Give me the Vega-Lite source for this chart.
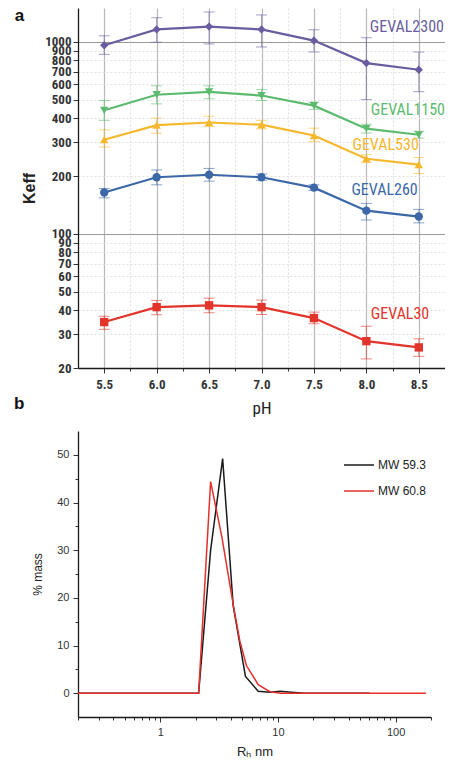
{
  "$schema": "https://vega.github.io/schema/vega-lite/v6.json",
  "padding": {"top": 7, "left": 13, "right": 0, "bottom": 0},
  "autosize": {"type": "pad"},
  "background": "white",
  "bounds": "flush",
  "spacing": 63,
  "resolve": {"scale": {"color": "independent", "shape": "independent"}, "legend": {"color": "independent", "shape": "independent"}},
  "config": {
    "font": "Liberation Sans",
    "view": {"stroke": null},
    "axis": {"domainColor": "#1a1a1a", "domainWidth": 1.3, "tickColor": "#333", "labelColor": "#333", "titleColor": "#222", "labelOverlap": false, "labelBound": false}
  },
  "datasets": {
    "keff": [
      {"series": "GEVAL2300", "pH": 5.5, "keff": 960, "lo": 860, "hi": 1075},
      {"series": "GEVAL2300", "pH": 6.0, "keff": 1160, "lo": 995, "hi": 1335},
      {"series": "GEVAL2300", "pH": 6.5, "keff": 1200, "lo": 975, "hi": 1430},
      {"series": "GEVAL2300", "pH": 7.0, "keff": 1160, "lo": 940, "hi": 1380},
      {"series": "GEVAL2300", "pH": 7.5, "keff": 1015, "lo": 885, "hi": 1155},
      {"series": "GEVAL2300", "pH": 8.0, "keff": 775, "lo": 500, "hi": 1050},
      {"series": "GEVAL2300", "pH": 8.5, "keff": 715, "lo": 550, "hi": 885},
      {"series": "GEVAL1150", "pH": 5.5, "keff": 440, "lo": 390, "hi": 495},
      {"series": "GEVAL1150", "pH": 6.0, "keff": 530, "lo": 475, "hi": 590},
      {"series": "GEVAL1150", "pH": 6.5, "keff": 548, "lo": 505, "hi": 590},
      {"series": "GEVAL1150", "pH": 7.0, "keff": 525, "lo": 495, "hi": 565},
      {"series": "GEVAL1150", "pH": 7.5, "keff": 465, "lo": 445, "hi": 485},
      {"series": "GEVAL1150", "pH": 8.0, "keff": 353, "lo": 335, "hi": 372},
      {"series": "GEVAL1150", "pH": 8.5, "keff": 328, "lo": 315, "hi": 342},
      {"series": "GEVAL530", "pH": 5.5, "keff": 309, "lo": 283, "hi": 348},
      {"series": "GEVAL530", "pH": 6.0, "keff": 368, "lo": 334, "hi": 401},
      {"series": "GEVAL530", "pH": 6.5, "keff": 380, "lo": 362, "hi": 410},
      {"series": "GEVAL530", "pH": 7.0, "keff": 370, "lo": 352, "hi": 390},
      {"series": "GEVAL530", "pH": 7.5, "keff": 325, "lo": 302, "hi": 355},
      {"series": "GEVAL530", "pH": 8.0, "keff": 246, "lo": 235, "hi": 258},
      {"series": "GEVAL530", "pH": 8.5, "keff": 229, "lo": 206, "hi": 250},
      {"series": "GEVAL260", "pH": 5.5, "keff": 164, "lo": 154, "hi": 172},
      {"series": "GEVAL260", "pH": 6.0, "keff": 197, "lo": 180, "hi": 215},
      {"series": "GEVAL260", "pH": 6.5, "keff": 203, "lo": 188, "hi": 219},
      {"series": "GEVAL260", "pH": 7.0, "keff": 197, "lo": 190, "hi": 205},
      {"series": "GEVAL260", "pH": 7.5, "keff": 174, "lo": 168, "hi": 180},
      {"series": "GEVAL260", "pH": 8.0, "keff": 132, "lo": 118, "hi": 144},
      {"series": "GEVAL260", "pH": 8.5, "keff": 123, "lo": 114, "hi": 134},
      {"series": "GEVAL30", "pH": 5.5, "keff": 34.7, "lo": 31.8, "hi": 37.2},
      {"series": "GEVAL30", "pH": 6.0, "keff": 41.5, "lo": 37.9, "hi": 45},
      {"series": "GEVAL30", "pH": 6.5, "keff": 42.4, "lo": 38.8, "hi": 46.2},
      {"series": "GEVAL30", "pH": 7.0, "keff": 41.5, "lo": 38, "hi": 45.2},
      {"series": "GEVAL30", "pH": 7.5, "keff": 36.4, "lo": 34, "hi": 39.1},
      {"series": "GEVAL30", "pH": 8.0, "keff": 27.6, "lo": 22.3, "hi": 33},
      {"series": "GEVAL30", "pH": 8.5, "keff": 25.6, "lo": 23, "hi": 28.4}
    ],
    "labels": [
      {"series": "GEVAL2300", "pH": 8.74, "keff": 1200},
      {"series": "GEVAL1150", "pH": 8.75, "keff": 440},
      {"series": "GEVAL530", "pH": 8.5, "keff": 291},
      {"series": "GEVAL260", "pH": 8.49, "keff": 169},
      {"series": "GEVAL30", "pH": 8.6, "keff": 38.3}
    ],
    "dls": [
      {"series": "MW 59.3", "rh": 0.2, "mass": 0},
      {"series": "MW 59.3", "rh": 2.12, "mass": 0},
      {"series": "MW 59.3", "rh": 2.68, "mass": 30},
      {"series": "MW 59.3", "rh": 3.39, "mass": 49.2},
      {"series": "MW 59.3", "rh": 4.17, "mass": 18.3},
      {"series": "MW 59.3", "rh": 5.3, "mass": 3.5},
      {"series": "MW 59.3", "rh": 6.8, "mass": 0.4},
      {"series": "MW 59.3", "rh": 8.5, "mass": 0.2},
      {"series": "MW 59.3", "rh": 10.5, "mass": 0.4},
      {"series": "MW 59.3", "rh": 13, "mass": 0.2},
      {"series": "MW 59.3", "rh": 17, "mass": 0},
      {"series": "MW 59.3", "rh": 60, "mass": 0},
      {"series": "MW 60.8", "rh": 0.2, "mass": 0},
      {"series": "MW 60.8", "rh": 2.12, "mass": 0},
      {"series": "MW 60.8", "rh": 2.68, "mass": 44.4},
      {"series": "MW 60.8", "rh": 3.35, "mass": 32.6},
      {"series": "MW 60.8", "rh": 4.17, "mass": 18.6},
      {"series": "MW 60.8", "rh": 4.75, "mass": 10.9},
      {"series": "MW 60.8", "rh": 5.4, "mass": 5.8},
      {"series": "MW 60.8", "rh": 6.8, "mass": 1.8},
      {"series": "MW 60.8", "rh": 8.55, "mass": 0.3},
      {"series": "MW 60.8", "rh": 10.5, "mass": 0},
      {"series": "MW 60.8", "rh": 181, "mass": 0}
    ]
  },
  "vconcat": [
    {
      "width": 367,
      "height": 360,
      "title": {"text": "a", "orient": "left", "anchor": "end", "angle": 0, "align": "right", "baseline": "top", "fontSize": 17, "fontWeight": "bold", "color": "#111", "offset": -12, "dy": 0, "font": "Liberation Sans"},
      "encoding": {
        "x": {
          "field": "pH", "type": "quantitative",
          "scale": {"domain": [5.25, 8.75], "nice": false, "zero": false},
          "axis": {
            "title": "pH", "titleFontSize": 17, "titleFontWeight": "normal", "titleFont": "Roboto Condensed, Roboto", "titlePadding": 9,
            "values": [5.5, 5.75, 6.0, 6.25, 6.5, 6.75, 7.0, 7.25, 7.5, 7.75, 8.0, 8.25, 8.5],
            "labelExpr": "(datum.value*2)%1==0 ? format(datum.value,'.1f') : ''",
            "labelFont": "Roboto Condensed, Roboto", "labelFontSize": 13, "labelFontWeight": "bold", "labelPadding": 5,
            "tickSize": {"condition": {"test": "(datum.value*2)%1==0", "value": 5}, "value": 3},
            "grid": true,
            "gridColor": {"condition": {"test": "(datum.value*2)%1==0", "value": "#b8b8b8"}, "value": "#e2e2e2"},
            "gridDash": {"condition": {"test": "(datum.value*2)%1==0", "value": []}, "value": [2, 2]},
            "gridWidth": 1.2
          }
        },
        "y": {
          "field": "keff", "type": "quantitative",
          "scale": {"type": "log", "domain": [20, 1500], "nice": false},
          "axis": {
            "title": "Keff", "titleFontSize": 16, "titleFontWeight": "bold", "titlePadding": 7, "titleFont": "Liberation Sans",
            "values": [20, 30, 40, 50, 60, 70, 80, 90, 100, 200, 300, 400, 500, 600, 700, 800, 900, 1000],
            "format": "d",
            "labelFont": "Roboto Condensed, Roboto", "labelFontSize": 13, "labelFontWeight": "bold", "labelPadding": 2,
            "tickSize": 5,
            "grid": true,
            "gridColor": {"condition": {"test": "datum.value==100||datum.value==1000", "value": "#9a9a9a"}, "value": "#e2e2e2"},
            "gridDash": {"condition": {"test": "datum.value==100||datum.value==1000", "value": []}, "value": [2, 2]},
            "gridWidth": 1.2
          }
        },
        "color": {
          "field": "series", "type": "nominal", "legend": null,
          "scale": {"domain": ["GEVAL2300", "GEVAL1150", "GEVAL530", "GEVAL260", "GEVAL30"], "range": ["#6a5c9e", "#5cbb6e", "#f5b82c", "#3c68a8", "#e3342b"]}
        }
      },
      "layer": [
        {
          "data": {"name": "keff"},
          "mark": {"type": "errorbar", "ticks": {"size": 11, "opacity": 0.6}, "rule": {"opacity": 0.6}},
          "encoding": {"y": {"field": "lo", "type": "quantitative"}, "y2": {"field": "hi"}}
        },
        {
          "data": {"name": "keff"},
          "mark": {"type": "line", "strokeWidth": 2.2},
          "encoding": {}
        },
        {
          "data": {"name": "keff"},
          "mark": {"type": "point", "filled": true, "opacity": 1, "size": 70},
          "encoding": {
            "shape": {"field": "series", "type": "nominal", "legend": null,
              "scale": {"domain": ["GEVAL2300", "GEVAL1150", "GEVAL530", "GEVAL260", "GEVAL30"], "range": ["diamond", "triangle-down", "triangle-up", "circle", "square"]}}
          }
        },
        {
          "data": {"name": "labels"},
          "mark": {"type": "text", "align": "right", "baseline": "middle", "font": "Roboto Condensed, Roboto", "fontSize": 16},
          "encoding": {"text": {"field": "series"}}
        }
      ]
    },
    {
      "width": 353,
      "height": 286,
      "title": {"text": "b", "orient": "left", "anchor": "end", "angle": 0, "align": "right", "baseline": "top", "fontSize": 17, "fontWeight": "bold", "color": "#111", "offset": -3, "dy": -35, "font": "Liberation Sans"},
      "data": {"name": "dls"},
      "mark": {"type": "line", "strokeWidth": 1.5},
      "encoding": {
        "x": {
          "field": "rh", "type": "quantitative",
          "scale": {"type": "log", "domain": [0.2, 200], "nice": false},
          "axis": {
            "title": "Rₕ nm", "titleFontSize": 13, "titleFontWeight": "normal", "titlePadding": 8,
            "values": [0.2, 0.3, 0.4, 0.5, 0.6, 0.7, 0.8, 0.9, 1, 2, 3, 4, 5, 6, 7, 8, 9, 10, 20, 30, 40, 50, 60, 70, 80, 90, 100, 200],
            "labelExpr": "indexof([1,10,100], datum.value) >= 0 ? format(datum.value,'d') : ''",
            "labelFontSize": 11, "labelPadding": 4,
            "tickSize": {"condition": {"test": "indexof([1,10,100], datum.value) >= 0", "value": 5}, "value": 3},
            "grid": false
          }
        },
        "y": {
          "field": "mass", "type": "quantitative",
          "scale": {"domain": [-5, 55], "nice": false, "zero": false},
          "axis": {
            "title": "% mass", "titleFontSize": 12, "titleFontWeight": "normal", "titlePadding": 12,
            "values": [0, 5, 10, 15, 20, 25, 30, 35, 40, 45, 50],
            "labelExpr": "datum.value % 10 == 0 ? datum.label : ''",
            "labelFontSize": 11, "labelPadding": 4,
            "tickSize": {"condition": {"test": "datum.value % 10 == 0", "value": 5}, "value": 3},
            "grid": false
          }
        },
        "color": {
          "field": "series", "type": "nominal",
          "scale": {"domain": ["MW 59.3", "MW 60.8"], "range": ["#1a1a1a", "#e4302c"]},
          "legend": {"title": null, "orient": "none", "legendX": 265, "legendY": 18, "symbolType": "stroke", "symbolSize": 900, "symbolStrokeWidth": 1.5, "labelFontSize": 12, "labelColor": "#222", "rowPadding": 4, "labelOffset": 3}
        }
      }
    }
  ]
}
